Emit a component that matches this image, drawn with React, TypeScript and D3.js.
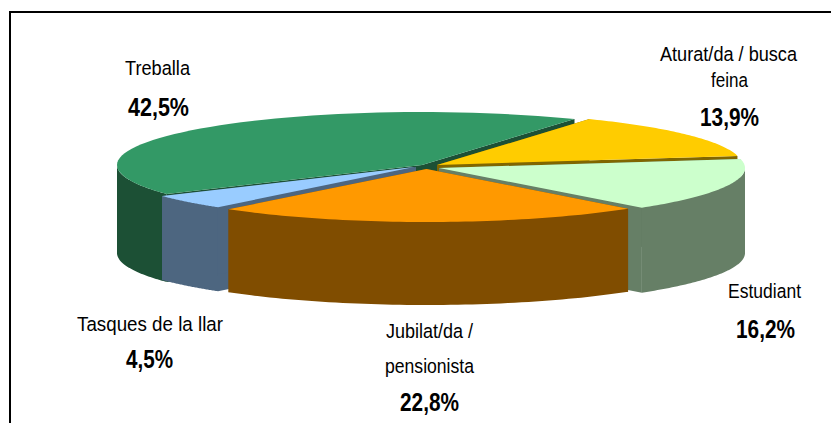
import React from "react";
import * as d3 from "d3";

const categories = ["Aturat/da / busca feina", "Estudiant", "Jubilat/da / pensionista", "Tasques de la llar", "Treballa"];
const values = [13.9, 16.2, 22.8, 4.5, 42.5];
const valueLabels = ["13,9%", "16,2%", "22,8%", "4,5%", "42,5%"];
const labelLines = [["Aturat/da / busca", "feina"], ["Estudiant"], ["Jubilat/da /", "pensionista"], ["Tasques de la llar"], ["Treballa"]];
const topColors = ["#FFCC00", "#CCFFCC", "#FF9900", "#99CCFF", "#339966"];
const sideColors = ["#806600", "#667F66", "#804D00", "#4D6680", "#1C5035"];

// Exploded centre and size of each slice
const apexes: [number, number][] = [[437, 165], [439, 168], [426.5, 169], [414, 167], [422, 165]];
const radiiX = [305, 306, 304, 301, 305];
const depths = [84, 85, 83, 84, 88];
const paintOrder = [4, 0, 1, 3, 2];
const RY = 53;

// Text layout: [x0, x1, baseline]
const textBoxes: [number, number, number][][] = [
  [[660, 797, 61], [711, 748, 87]],
  [[728, 801, 298]],
  [[386, 473, 338], [385, 474, 373]],
  [[77, 223, 331]],
  [[125, 190, 75]],
];
const valueBoxes: [number, number, number][] = [
  [700, 759, 126], [736, 795, 338], [400, 459, 411], [126, 173, 368], [128, 189, 116],
];

const line = d3.line<[number, number]>().x((d) => d[0]).y((d) => d[1]);
const pie = d3.pie<number>().sort(null).startAngle(Math.PI / 6).endAngle(Math.PI / 6 + 2 * Math.PI);

export default function App() {
  const arcs = pie(values);
  const pt = (i: number, a: number): [number, number] => [
    apexes[i][0] + radiiX[i] * Math.sin(a),
    apexes[i][1] - RY * Math.cos(a),
  ];
  const sample = (i: number, a0: number, a1: number) =>
    d3.range(0, 61).map((k) => pt(i, a0 + ((a1 - a0) * k) / 60));

  const slices = paintOrder.map((i) => {
    const { startAngle: a0, endAngle: a1 } = arcs[i];
    const down = (p: [number, number]): [number, number] => [p[0], p[1] + depths[i]];
    const rim = sample(i, a0, a1);
    const top = line([apexes[i], ...rim])! + "Z";
    const faces: string[] = [];
    // Cut faces, extruded straight down
    [a0, a1].forEach((a) => {
      const p = pt(i, a);
      const c = apexes[i];
      // the end face of Tasques sits a hair to the right of its wall
      const dx = i === 3 && a === a1 ? 2 : 0;
      const s: [number, number] = [p[0] + dx, p[1]];
      const t: [number, number] = [c[0] + dx, c[1]];
      faces.push(line([s, t, down(t), down(s)])! + "Z");
    });
    // Outer wall: only where the rim faces the viewer
    const lo = Math.max(a0, Math.PI / 2);
    const hi = Math.min(a1, (3 * Math.PI) / 2);
    if (hi > lo) {
      const wall = sample(i, lo, hi);
      faces.push(line([...wall, ...wall.slice().reverse().map(down)])! + "Z");
    }
    return { i, top, faces };
  });

  return (
    <svg width={831} height={423} style={{ position: "absolute", left: 0, top: 0, background: "#fff" }}>
      <path d="M10,423V12H831" fill="none" stroke="#000" strokeWidth={2} />
      {slices.map((s) => (
        <g key={categories[s.i]}>
          {s.faces.map((d, k) => (
            <path key={k} d={d} fill={sideColors[s.i]} />
          ))}
          <path d={s.top} fill={topColors[s.i]} />
        </g>
      ))}
      {labelLines.map((lines, i) => (
        <g key={i} fontFamily="'Liberation Sans', Arial, sans-serif" fill="#000">
          {lines.map((t, k) => (
            <text key={k} x={textBoxes[i][k][0]} y={textBoxes[i][k][2]} fontSize={20.5}
              textLength={textBoxes[i][k][1] - textBoxes[i][k][0]} lengthAdjust="spacingAndGlyphs">{t}</text>
          ))}
          <text x={valueBoxes[i][0]} y={valueBoxes[i][2]} fontSize={25} fontWeight="bold"
            textLength={valueBoxes[i][1] - valueBoxes[i][0]} lengthAdjust="spacingAndGlyphs">{valueLabels[i]}</text>
        </g>
      ))}
    </svg>
  );
}
